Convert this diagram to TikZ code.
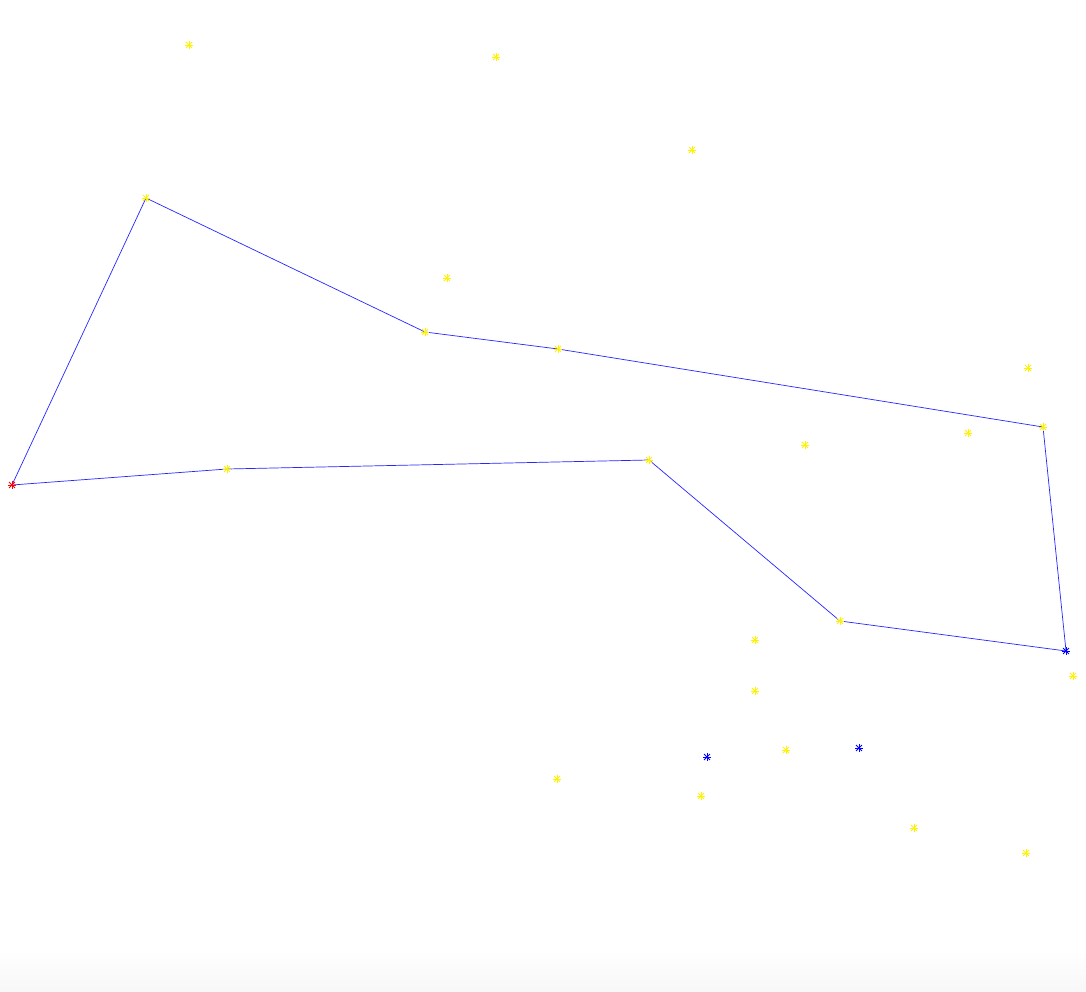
\documentclass[tikz,border=0pt]{standalone}
\usetikzlibrary{backgrounds}
\begin{document}
\begin{tikzpicture}[x=1pt,y=-1pt,
  ast/.style={circle, inner sep=0pt, minimum size=10pt,
    path picture={\foreach \a in {0,45,90,135}{\draw[#1, line width=0.9pt, shift={(path picture bounding box.center)}] (\a:4.2pt) -- (\a+180:4.2pt);}}},
  route/.style={draw=blue!85, line width=0.7pt, line join=round}]
\useasboundingbox (0,0) rectangle (1086,992);
% route nodes
\node[ast=red] (s) at (12,485) {};
\node[ast=yellow] (a) at (146,198) {};
\node[ast=yellow] (b) at (425,332) {};
\node[ast=yellow] (c) at (558,349) {};
\node[ast=yellow] (d) at (1043,427) {};
\node[ast=blue] (e) at (1066,651) {};
\node[ast=yellow] (f) at (840,621) {};
\node[ast=yellow] (g) at (649,460) {};
\node[ast=yellow] (h) at (227,469) {};
% other yellow points
\node[ast=yellow] (y1) at (189,45) {};
\node[ast=yellow] (y2) at (496,57) {};
\node[ast=yellow] (y3) at (692,150) {};
\node[ast=yellow] (y4) at (447,278) {};
\node[ast=yellow] (y5) at (1028,368) {};
\node[ast=yellow] (y6) at (968,433) {};
\node[ast=yellow] (y7) at (805,445) {};
\node[ast=yellow] (y8) at (755,640) {};
\node[ast=yellow] (y9) at (755,691) {};
\node[ast=yellow] (y10) at (786,750) {};
\node[ast=yellow] (y11) at (1073,676) {};
\node[ast=yellow] (y12) at (557,779) {};
\node[ast=yellow] (y13) at (701,796) {};
\node[ast=yellow] (y14) at (914,828) {};
\node[ast=yellow] (y15) at (1026,853) {};
% blue points
\node[ast=blue] (b1) at (707,757) {};
\node[ast=blue] (b2) at (859,748) {};
\begin{scope}[on background layer]
  \fill[white] (0,0) rectangle (1086,992);
  \shade[top color=white, bottom color=black!3] (0,950) rectangle (1086,992);
  \draw[route] (s.center) -- (a.center) -- (b.center) -- (c.center) -- (d.center) -- (e.center) -- (f.center) -- (g.center) -- (h.center) -- (s.center);
\end{scope}
\end{tikzpicture}
\end{document}
